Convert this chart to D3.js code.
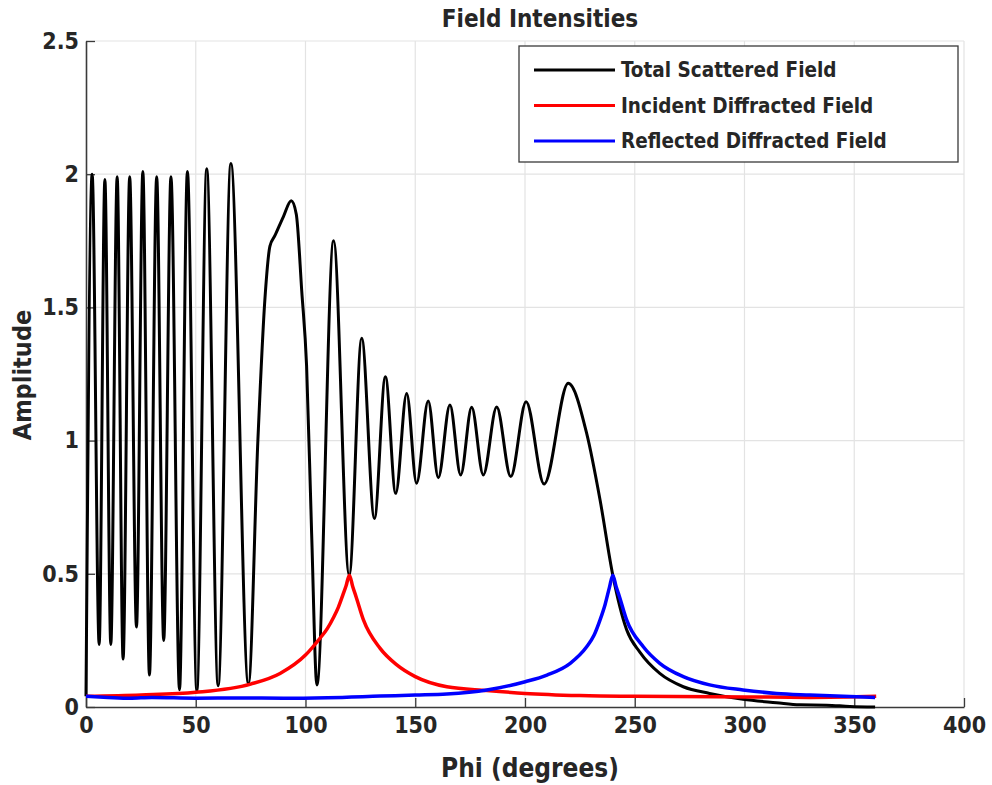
<!DOCTYPE html>
<html>
<head>
<meta charset="utf-8">
<script src="https://cdn.jsdelivr.net/npm/d3@7"></script>
<style>
  body { margin: 0; background: #fff; }
  svg text { font-family: "DejaVu Sans", Verdana, sans-serif; font-weight: bold; font-stretch: condensed; fill: #262626; }
</style>
</head>
<body>
<svg width="992" height="785"></svg>
<script>
// values
const phiTotal = [0, 2.8, 6.0, 8.6, 11.3, 14.2, 16.9, 19.9, 23.0, 25.9, 28.9, 32.2, 35.4, 38.7, 42.6, 46.2,
  50.5, 55.0, 60.2, 66.0, 74.0, 78.3, 81.5, 83.8, 86.1, 89.9, 93.5, 95.8, 98.3, 100.5, 102.8, 105.2,
  112.8, 119.9, 125.6, 131.4, 136.4, 141.1, 146.1, 150.6, 155.9, 160.5, 165.8, 170.7, 175.7, 181.0,
  187.1, 193.5, 200.5, 208.7, 219.7, 228.1, 234.2, 240.0, 246.3, 252.4, 261.4, 272.1, 284.1, 299.3,
  314.6, 325.2, 337.4, 348.0, 359.5];
const ampTotal = [0.04, 2.0, 0.235, 1.98, 0.235, 1.99, 0.18, 1.99, 0.30, 2.01, 0.12, 1.99, 0.25, 1.99, 0.065, 2.01,
  0.06, 2.02, 0.08, 2.04, 0.087, 1.0, 1.53, 1.73, 1.77, 1.84, 1.90, 1.85, 1.56, 1.28, 0.65, 0.083,
  1.75, 0.495, 1.384, 0.708, 1.24, 0.802, 1.177, 0.84, 1.149, 0.861, 1.134, 0.871, 1.125, 0.871,
  1.126, 0.865, 1.146, 0.837, 1.215, 1.027, 0.777, 0.495, 0.29, 0.205, 0.126, 0.076, 0.051, 0.029,
  0.016, 0.008, 0.007, 0.002, 0.0];

const phiIncident = [0, 25, 50, 75, 88.4, 100, 106.6, 110, 112.7, 115, 117, 118.5, 120, 121.5, 123, 126.4, 134, 141.6,
  150, 164.4, 182.6, 200, 225, 250, 300, 330, 360];
const ampIncident = [0.04, 0.045, 0.055, 0.086, 0.126, 0.195, 0.258, 0.295, 0.335, 0.375, 0.42, 0.455, 0.495, 0.452, 0.415, 0.327, 0.22, 0.158,
  0.114, 0.076, 0.062, 0.051, 0.043, 0.04, 0.038, 0.036, 0.04];

const phiReflected = [0, 10, 20, 30, 50, 70, 90, 110, 134, 150, 164.4, 182.6, 200.1, 210, 220.6, 228.1,
  231.5, 234.2, 236.5, 238.5, 240, 241.5, 243, 246.3, 253.9, 261.4, 272.1, 284.1, 299.3, 314.6, 329.8, 348, 359.5];
const ampReflected = [0.04, 0.036, 0.033, 0.036, 0.033, 0.034, 0.033, 0.035, 0.041, 0.045, 0.049, 0.064, 0.095, 0.12, 0.164, 0.226,
  0.27, 0.327, 0.385, 0.45, 0.495, 0.452, 0.415, 0.327, 0.226, 0.164, 0.114, 0.083, 0.064, 0.051, 0.045, 0.039, 0.036];

const xTicks = [0, 50, 100, 150, 200, 250, 300, 350, 400];
const yTicks = [0, 0.5, 1, 1.5, 2, 2.5];

const seriesNames = ['Total Scattered Field', 'Incident Diffracted Field', 'Reflected Diffracted Field'];
const seriesColors = ['#000000', '#ff0000', '#0000ff'];

const svg = d3.select('svg');
const margin = { top: 41, right: 28, bottom: 78, left: 86 };
const width = 992, height = 785;
const innerWidth = width - margin.left - margin.right;
const innerHeight = height - margin.top - margin.bottom;

const xScale = d3.scaleLinear().domain([0, 400]).range([0, innerWidth]);
const yScale = d3.scaleLinear().domain([0, 2.5]).range([innerHeight, 0]);

const g = svg.append('g').attr('transform', `translate(${margin.left},${margin.top})`);

// grid
g.append('g').selectAll('line').data(xTicks.slice(1)).enter().append('line')
    .attr('x1', d => xScale(d)).attr('x2', d => xScale(d))
    .attr('y1', 0).attr('y2', innerHeight)
    .attr('stroke', '#e3e3e3').attr('stroke-width', 1.2);
g.append('g').selectAll('line').data(yTicks.slice(1)).enter().append('line')
    .attr('x1', 0).attr('x2', innerWidth)
    .attr('y1', d => yScale(d)).attr('y2', d => yScale(d))
    .attr('stroke', '#e3e3e3').attr('stroke-width', 1.2);

// axes (ticks point inward)
const xAxis = d3.axisBottom(xScale).tickValues(xTicks).tickFormat(d3.format('')).tickSizeInner(-9).tickSizeOuter(0).tickPadding(10);
const yAxis = d3.axisLeft(yScale).tickValues(yTicks).tickFormat(d3.format('')).tickSizeInner(-9).tickSizeOuter(0).tickPadding(7);

const xAxisG = g.append('g').attr('transform', `translate(0,${innerHeight})`).call(xAxis);
const yAxisG = g.append('g').call(yAxis);
[xAxisG, yAxisG].forEach(a => {
  a.select('.domain').attr('stroke', '#3a3a3a').attr('stroke-width', 1.6);
  a.selectAll('.tick line').attr('stroke', '#3a3a3a').attr('stroke-width', 1.3);
  a.selectAll('.tick text').attr('font-size', 23).attr('fill', '#262626')
    .style('font-family', '"DejaVu Sans", Verdana, sans-serif').style('font-weight', 'bold');
});

// lines
const line = d3.line().x(d => xScale(d[0])).y(d => yScale(d[1])).curve(d3.curveMonotoneX);
const series = [
  d3.zip(phiTotal, ampTotal),
  d3.zip(phiIncident, ampIncident),
  d3.zip(phiReflected, ampReflected)
];
const widths = [3, 3.5, 3.5];
series.forEach((s, i) => {
  g.append('path').datum(s)
    .attr('fill', 'none')
    .attr('stroke', seriesColors[i])
    .attr('stroke-width', widths[i])
    .attr('stroke-linejoin', 'round')
    .attr('d', line);
});

// title and labels
svg.append('text').attr('x', 540).attr('y', 27).attr('text-anchor', 'middle')
    .attr('font-size', 24).text('Field Intensities');
svg.append('text').attr('x', 530).attr('y', 777).attr('text-anchor', 'middle')
    .attr('font-size', 26).text('Phi (degrees)');
svg.append('text').attr('transform', 'translate(31,375) rotate(-90)').attr('text-anchor', 'middle')
    .attr('font-size', 25).text('Amplitude');

// legend
const legend = svg.append('g').attr('transform', 'translate(519,46)');
legend.append('rect').attr('width', 439).attr('height', 116)
    .attr('fill', '#fff').attr('stroke', '#3a3a3a').attr('stroke-width', 1.3);
seriesNames.forEach((name, i) => {
  const y = 24 + i * 35.5;
  legend.append('line').attr('x1', 15).attr('x2', 96).attr('y1', y).attr('y2', y)
    .attr('stroke', seriesColors[i]).attr('stroke-width', 3);
  legend.append('text').attr('x', 102).attr('y', y).attr('dy', '0.36em')
    .attr('font-size', 20.5).text(name);
});
</script>
</body>
</html>
